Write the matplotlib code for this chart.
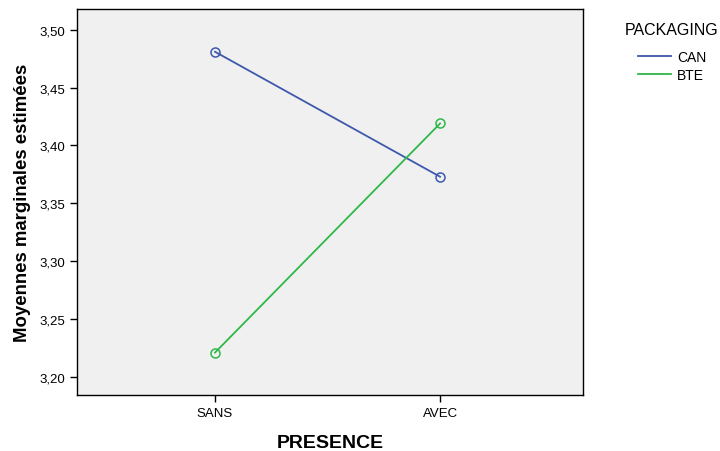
import numpy as np
import matplotlib.pyplot as plt

plt.rcParams['font.family'] = ['Liberation Sans', 'DejaVu Sans']

# Données
categories = ['SANS', 'AVEC']
can = [3.481, 3.373]
bte = [3.221, 3.419]
yticks = [3.20, 3.25, 3.30, 3.35, 3.40, 3.45, 3.50]

fig = plt.figure(figsize=(7.2, 4.52), dpi=100)
ax = fig.add_axes([0.107, 0.124, 0.703, 0.854])
ax.set_facecolor('#f0f0f0')

x = np.arange(len(categories))
l1, = ax.plot(x, can, '-', color='#3e58ac', lw=1.3, label='CAN')
ax.plot(x, can, 'o', mfc='none', mec='#3e58ac', ms=6.5, mew=1.1)
l2, = ax.plot(x, bte, '-', color='#2eb848', lw=1.3, label='BTE')
ax.plot(x, bte, 'o', mfc='none', mec='#2eb848', ms=6.5, mew=1.1)

ax.set_xlim(-0.613, 1.636)
ax.set_ylim(3.1844, 3.518)
ax.set_xticks(x)
ax.set_xticklabels(categories, fontsize=9.5)
ax.set_yticks(yticks)
ax.set_yticklabels([f'{v:.2f}'.replace('.', ',') for v in yticks], fontsize=9.5)
ax.tick_params(direction='out', length=5, width=1)
for s in ax.spines.values():
    s.set_linewidth(1)

ax.set_xlabel('PRESENCE', fontsize=14, fontweight='bold', labelpad=11)
ax.set_ylabel('Moyennes marginales estimées', fontsize=13.4, fontweight='bold', labelpad=6)

leg = fig.legend(handles=[l1, l2], title='PACKAGING', loc='upper left',
                 bbox_to_anchor=(0.851, 0.976), frameon=False, fontsize=10,
                 title_fontsize=11.5, handlelength=2.4, handletextpad=0.4,
                 labelspacing=0.3)
leg._legend_box.sep = 9

plt.savefig('out.png', dpi=100)
